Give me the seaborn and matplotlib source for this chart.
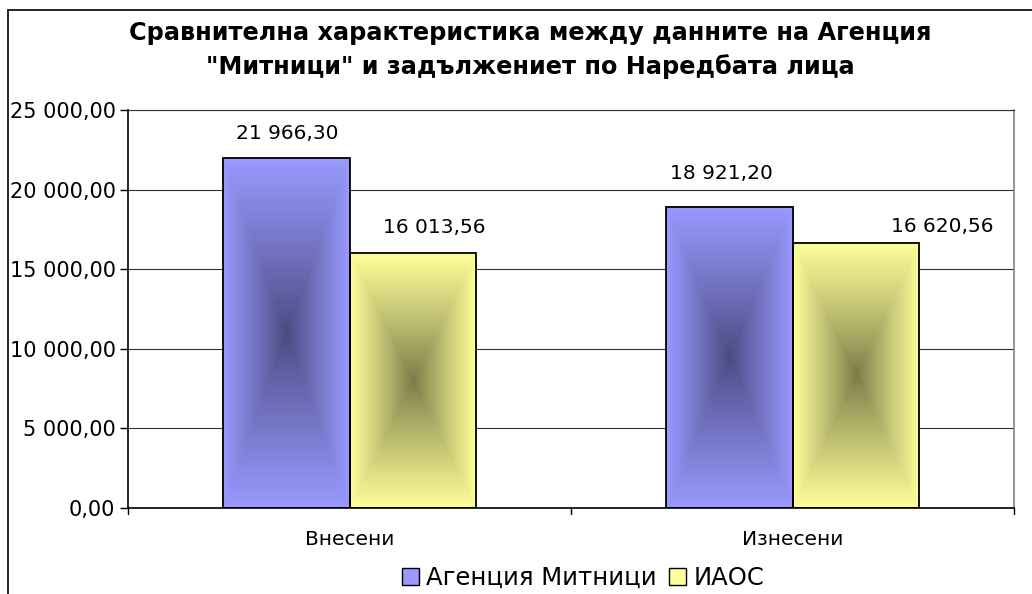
import numpy as np
import pandas as pd
import matplotlib
matplotlib.use("Agg")
import matplotlib.pyplot as plt
import seaborn as sns
from matplotlib.lines import Line2D
from matplotlib.patches import Patch
from matplotlib.colors import to_rgb

# ---- data ----
categories = ["Внесени", "Изнесени"]
series = ["Агенция Митници", "ИАОС"]
values_customs = [21966.30, 18921.20]
values_iaos = [16013.56, 16620.56]
title = 'Сравнителна характеристика между данните на Агенция\n"Митници" и задължениет по Наредбата лица'

df = pd.DataFrame({
    "cat": categories * 2,
    "series": [series[0]] * 2 + [series[1]] * 2,
    "value": values_customs + values_iaos,
})

def fmt(v):
    s = f"{v:,.2f}"
    return s.replace(",", " ").replace(".", ",")

sns.set_theme(style="white")
plt.rcParams["font.family"] = ["DejaVu Sans"]
plt.rcParams["text.color"] = "black"
plt.rcParams["xtick.color"] = "black"
plt.rcParams["ytick.color"] = "black"
plt.rcParams["xtick.labelcolor"] = "black"
plt.rcParams["ytick.labelcolor"] = "black"

edge_cols = {series[0]: "#9999FF", series[1]: "#FFFF99"}
center_cols = {series[0]: "#4A4A80", series[1]: "#7A7A48"}

fig = plt.figure(figsize=(10.32, 5.94), dpi=100)
W, H = 1032, 594
ax = fig.add_axes([128 / W, 1 - 508 / H, (1014 - 128) / W, (508 - 110) / H])

sns.barplot(data=df, x="cat", y="value", hue="series", order=categories,
            hue_order=series, palette=edge_cols, width=0.57, ax=ax,
            edgecolor="black", linewidth=1.3, legend=False, zorder=3)

ax.set_xlim(-0.5, 1.5)
ax.set_ylim(0, 25000)
ax.set_yticks(np.arange(0, 25001, 5000))
ax.set_yticklabels([fmt(v) for v in np.arange(0, 25001, 5000)], fontsize=15)
ax.set_xticks([0, 1])
ax.set_xticklabels(categories, fontsize=14.5)
ax.tick_params(axis="x", length=0, pad=16)
ax.tick_params(axis="y", length=6, width=1, color="black", direction="out", pad=3, left=True)
ax.set_xlabel("")
ax.set_ylabel("")
ax.yaxis.grid(True, color="#333333", linewidth=0.8, zorder=0)
ax.set_axisbelow(True)
for s in ["left", "bottom"]:
    ax.spines[s].set_color("black")
    ax.spines[s].set_linewidth(1.2)
ax.spines["right"].set_color("#808080")
ax.spines["right"].set_linewidth(1.2)
ax.spines["top"].set_color("#333333")
ax.spines["top"].set_linewidth(0.8)
# category boundary ticks on x axis
for xb in [-0.5, 0.5, 1.5]:
    ax.plot([xb, xb], [0, -0.016], transform=ax.get_xaxis_transform(),
            color="black", lw=1, clip_on=False)

# gradient fills (from center, rectangular)
n = 200
u = np.linspace(-1, 1, n)
U, V = np.meshgrid(u, u)
T = np.maximum(np.abs(U), np.abs(V))
bars = [p for p in ax.patches if p.get_height() > 0]
bar_series = []
for p in bars:
    x0, w = p.get_x(), p.get_width()
    fc = p.get_facecolor()
    sname = series[0] if fc[2] > fc[1] else series[1]
    bar_series.append(sname)
    c_edge = np.array(to_rgb(edge_cols[sname]))
    c_cent = np.array(to_rgb(center_cols[sname]))
    img = c_cent[None, None, :] + (c_edge - c_cent)[None, None, :] * (T[..., None] ** 0.9)
    ax.imshow(img, extent=(x0, x0 + w, 0, p.get_height()), aspect="auto",
              zorder=2.5, interpolation="bilinear")
    p.set_facecolor("none")
ax.set_xlim(-0.5, 1.5)
ax.set_ylim(0, 25000)

# data labels (offsets in px, as placed in the original)
label_offsets = {(series[0], 0): (1, 25), (series[0], 1): (-8, 33),
                 (series[1], 0): (22, 26), (series[1], 1): (87, 17)}
for p, sname in zip(bars, bar_series):
    xc = p.get_x() + p.get_width() / 2
    ci = int(round(xc))
    dx, dy = label_offsets[(sname, ci)]
    ax.annotate(fmt(p.get_height()), (xc, p.get_height()),
                xytext=(dx * 0.72, dy * 0.72), textcoords="offset points",
                ha="center", va="center", fontsize=14.5, color="black", zorder=5)

# title
fig.text(530 / W, 1 - 50 / H, title, ha="center", va="center", color="black",
         fontsize=17.3, fontweight="bold", linespacing=1.45)

# legend
handles = [Patch(facecolor=edge_cols[s], edgecolor="black", linewidth=1) for s in series]
leg = fig.legend(handles, series, loc="center", bbox_to_anchor=(583 / W, 1 - 578 / H),
                 ncol=2, frameon=False, fontsize=17.5, handlelength=0.7, handleheight=0.7,
                 handletextpad=0.3, columnspacing=0.5, borderpad=0)
for t in leg.get_texts():
    t.set_color("black")

# outer chart frame (left and top visible)
fig.add_artist(Line2D([8 / W, 8 / W], [0, 1 - 10 / H], transform=fig.transFigure,
                      color="black", lw=1.2))
fig.add_artist(Line2D([8 / W, 1], [1 - 10 / H, 1 - 10 / H], transform=fig.transFigure,
                      color="black", lw=1.2))

fig.savefig("out.png", dpi=100)
